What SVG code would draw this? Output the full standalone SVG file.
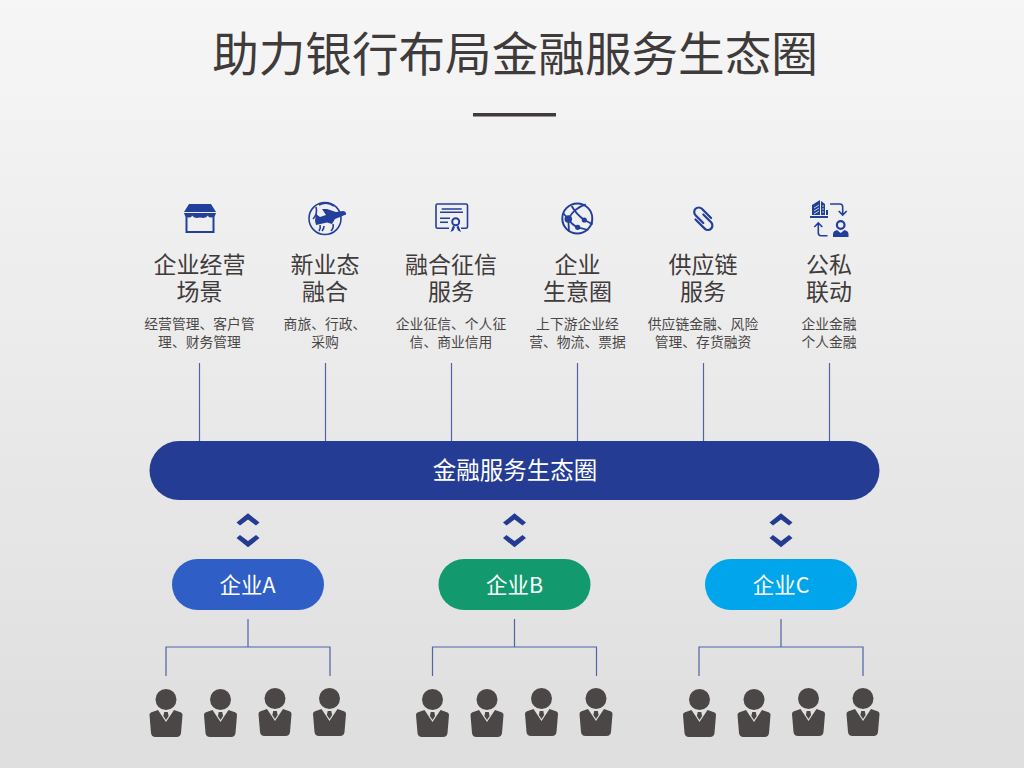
<svg xmlns="http://www.w3.org/2000/svg" width="1024" height="768" viewBox="0 0 1024 768">
<style>
text{font-family:"Noto Sans CJK SC","Liberation Sans",sans-serif;text-anchor:middle;fill:#3f3b3a}
.title{font-size:46.600px}
.head{font-size:23px}
.sub{font-size:13.800px;fill:#4a4645}
.band{font-size:23.500px;fill:#fff}
.pill{font-size:21.500px;fill:#fff}
.line{fill:none;stroke:#4f63a5;stroke-width:1.200}
.ic{fill:none;stroke:#233f9c;stroke-width:1.600}
.if{fill:#233f9c}
</style>
<defs>
<linearGradient id="bg" x1="0" y1="0" x2="0" y2="1"><stop offset="0" stop-color="#f7f6f7"/><stop offset="1" stop-color="#dededf"/></linearGradient>
<g id="person">
<circle cx="0" cy="10.500" r="10.500" fill="#4b4746"/>
<path d="M-16.500 26Q-16.500 23.500-13 22.800L-8 21L0 33L8 21L13 22.800Q16.500 23.500 16.500 26L15 44Q14.500 48 10.500 48H-10.500Q-14.500 48-15 44Z" fill="#4b4746"/>
<path d="M-1.800 23H1.800L2.600 27L0 31L-2.600 27Z" fill="#4b4746"/>
</g>
<g id="chevs" fill="#233b91"><path d="M0 513.300L11.500 522.500L8 525.500L0 519.500L-8 525.500L-11.500 522.500Z"/><path d="M0 547.300L11.500 538.100L8 535.100L0 541.100L-8 535.100L-11.500 538.100Z"/></g>
<g id="tree"><path class="line" d="M0 619V647M-82 676V647H82V676"/></g>
</defs>
<rect width="1024" height="768" fill="url(#bg)"/>
<g id="title"><text class="title" x="515" y="71">助力银行布局金融服务生态圈</text><rect x="473" y="113" width="83" height="3.500" fill="#3f3b3a"/></g>
<g id="connectors">
<path class="line" d="M199.500 363V441M325.500 363V441M451.500 363V441M577.500 363V441M703.500 363V441M829.500 363V441"/>
<use href="#chevs" x="248"/><use href="#chevs" x="514.500"/><use href="#chevs" x="781"/>
<use href="#tree" x="248"/><use href="#tree" x="514.500"/><use href="#tree" x="781"/>
</g>
<g id="node-scene">
<path class="ic" style="stroke-width:2" d="M186.500 213V232H213.500V213"/>
<path class="if" d="M189 204H211L216 212H184Z"/>
<path class="if" d="M184 213H216Q215 218 210 217.500Q208 217 208 215.500Q206 219 200 217.500Q194 219 192 215.500Q192 217 190 217.500Q185 218 184 213Z"/>
<text class="head" x="199.500" y="273">企业经营<tspan x="199.500" dy="26.500">场景</tspan></text>
<text class="sub" x="199.500" y="329">经营管理、客户管<tspan x="199.500" dy="18">理、财务管理</tspan></text>
</g>
<g id="node-new">
<circle class="ic" cx="325" cy="218.500" r="16"/>
<path class="ic" d="M316 207Q318 214 313 219M319 231Q321 228 320 225M322 231Q324 229 324 226M331 231Q334 228 333 224M319 205Q327 201 334 206"/>
<path class="if" d="M315 221L316 214L320 217L326 215L322 209L327 209L336 212L343 211Q347 212 346 214.500L335 219L332 224L327 222.500L316 225Z"/>
<text class="head" x="325" y="273">新业态<tspan x="325" dy="26.500">融合</tspan></text>
<text class="sub" x="325" y="329">商旅、行政、<tspan x="325" dy="18">采购</tspan></text>
</g>
<g id="node-credit">
<path class="ic" d="M449 228.300H437.500Q436 228.300 436 226.800V205.500Q436 204 437.500 204H466Q467.500 204 467.500 205.500V226.800Q467.500 228.300 466 228.300H461"/>
<path class="ic" d="M441.700 209H461.700M440 212.300H463M440 218.300H450M440 222.300H448"/>
<circle class="ic" style="stroke-width:2" cx="455.700" cy="221.700" r="3.500"/>
<path class="if" d="M453 225.500L450.500 232L453.500 230.500L455 227ZM458.500 225.500L461 232L458 230.500L456.500 227Z"/>
<text class="head" x="451" y="273">融合征信<tspan x="451" dy="26.500">服务</tspan></text>
<text class="sub" x="451" y="329">企业征信、个人征<tspan x="451" dy="18">信、商业信用</tspan></text>
</g>
<g id="node-circle">
<circle class="ic" style="stroke-width:2" cx="577.300" cy="218.500" r="15"/>
<path class="ic" style="stroke-width:1.800" d="M568.300 219Q574 208 585.700 204.300M571.700 206Q576 214 584.300 220L592.700 224.300M568.300 219Q572 225 577.700 227.300L588.300 230M568.300 219L563 213M568.300 219L569 231.700"/>
<circle class="if" cx="568.300" cy="219" r="3.800"/><circle class="if" cx="584.300" cy="220" r="2.600"/><circle class="if" cx="577.700" cy="227.300" r="2.600"/>
<text class="head" x="577.500" y="273">企业<tspan x="577.500" dy="26.500">生意圈</tspan></text>
<text class="sub" x="577.500" y="329">上下游企业经<tspan x="577.500" dy="18">营、物流、票据</tspan></text>
</g>
<g id="node-chain">
<path transform="translate(703.300 218.700) rotate(45)" fill="none" stroke="#233f9c" stroke-width="2.200" stroke-linecap="round" d="M5 -6H-8A4.500 4.500 0 0 0 -8 3H3M-5 6H8A4.500 4.500 0 0 0 8 -3H-3"/>
<text class="head" x="703" y="273">供应链<tspan x="703" dy="26.500">服务</tspan></text>
<text class="sub" x="703" y="329">供应链金融、风险<tspan x="703" dy="18">管理、存货融资</tspan></text>
</g>
<g id="node-linkage">
<path class="if" d="M812 215V205L820 200V215ZM821 201L825 204V215H821ZM826 210H828V215H826ZM810 216H828V218H810Z"/>
<path d="M814 208L819 205M814 211L819 208M814 214L819 211M822 206H824M822 209H824M822 212H824" fill="none" stroke="#eeeeef" stroke-width="0.800"/>
<path class="ic" d="M830 204H840Q842.700 204 842.700 207V215M838.700 211L842.700 215L846.700 211"/>
<path class="ic" d="M818.300 223V232.700Q818.300 235.700 821 235.700H827.500M814.300 227L818.300 223L822.300 227"/>
<circle class="ic" style="stroke-width:2.200" cx="840.700" cy="225" r="3.800"/>
<path class="if" d="M833 237V234Q833 231 837 230L840.700 233L844.500 230Q848.500 231 848.500 234V237Z"/>
<text class="head" x="829" y="273">公私<tspan x="829" dy="26.500">联动</tspan></text>
<text class="sub" x="829" y="329">企业金融<tspan x="829" dy="18">个人金融</tspan></text>
</g>
<g id="node-band"><rect x="149.500" y="441" width="730" height="59" rx="29.500" fill="#243c93"/><text class="band" x="515" y="479">金融服务生态圈</text></g>
<g id="node-a"><rect x="172" y="559" width="152" height="51" rx="25.500" fill="#2f5fc6"/><text class="pill" x="247.500" y="593">企业A</text></g>
<g id="node-b"><rect x="438.500" y="559" width="152" height="51" rx="25.500" fill="#129a6e"/><text class="pill" x="514.500" y="593">企业B</text></g>
<g id="node-c"><rect x="705" y="559" width="152" height="51" rx="25.500" fill="#00a5ec"/><text class="pill" x="781" y="593">企业C</text></g>
<g id="staff-a"><use href="#person" x="166" y="689"/><use href="#person" x="220.500" y="689"/><use href="#person" x="275" y="688"/><use href="#person" x="329.500" y="688"/></g>
<g id="staff-b"><use href="#person" x="432.500" y="689"/><use href="#person" x="487" y="689"/><use href="#person" x="541.500" y="688"/><use href="#person" x="596" y="688"/></g>
<g id="staff-c"><use href="#person" x="699.500" y="689"/><use href="#person" x="754" y="689"/><use href="#person" x="808.500" y="688"/><use href="#person" x="863" y="688"/></g>
</svg>
